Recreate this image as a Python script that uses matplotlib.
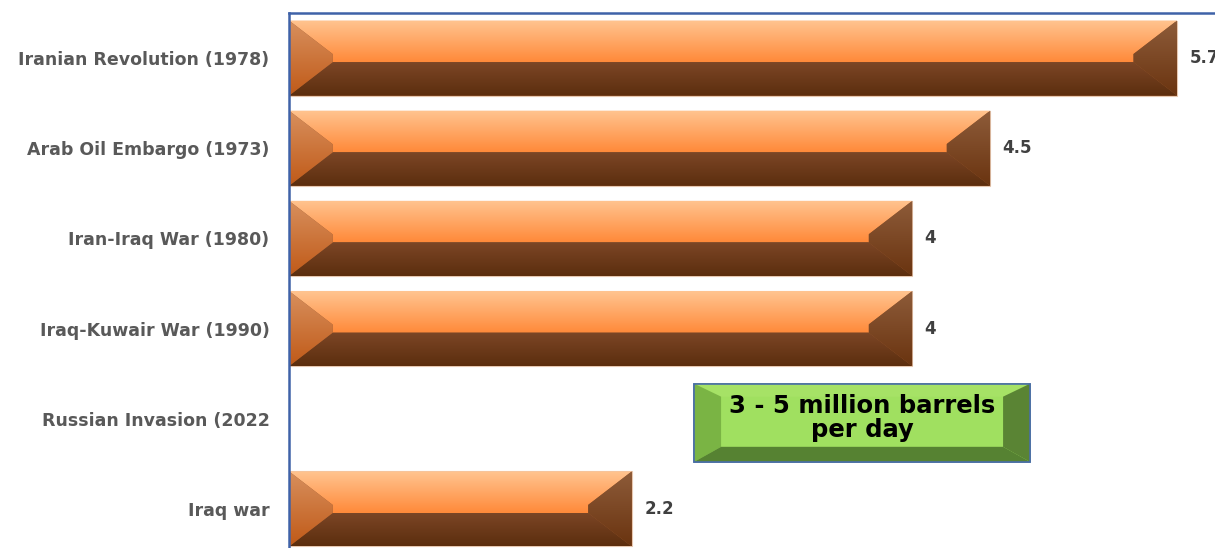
import numpy as np
import matplotlib
matplotlib.use("Agg")
import matplotlib.pyplot as plt
from matplotlib.patches import Polygon, Rectangle
from matplotlib.colors import LinearSegmentedColormap

plt.rcParams['font.family'] = ['DejaVu Sans']

# supply disruption, million barrels per day
events = ['Iranian Revolution (1978)', 'Arab Oil Embargo (1973)', 'Iran-Iraq War (1980)',
          'Iraq-Kuwair War (1990)', 'Russian Invasion (2022', 'Iraq war']
loss = [5.7, 4.5, 4, 4, np.nan, 2.2]
note = '3 - 5 million barrels\nper day'


def grad_face(ax, verts, c_top, c_bot, z=2):
    poly = Polygon(verts, closed=True, facecolor='none', edgecolor='none')
    ax.add_patch(poly)
    xs = [v[0] for v in verts]
    ys = [v[1] for v in verts]
    cmap = LinearSegmentedColormap.from_list('g', [c_top, c_bot])
    im = ax.imshow(np.linspace(0, 1, 64).reshape(-1, 1), cmap=cmap, origin='upper',
                   extent=(min(xs), max(xs), max(ys), min(ys)), aspect='auto',
                   interpolation='bilinear', zorder=z)
    im.set_clip_path(poly)


def bevel_bar(ax, c, w, h=0.833, bw=0.28, mid=0.045):
    t, b = c - h / 2, c + h / 2
    m1, m2 = c - mid, c + mid
    xl, xr = 0, w
    # solid backing so the facet seams don't show through
    ax.add_patch(Rectangle((xl, t), w, h, facecolor='#9a5a30', edgecolor='#e8c8b0',
                           lw=0.8, zorder=1.9))
    # top face
    grad_face(ax, [(xl, t), (xr, t), (xr - bw, m1), (xr - bw, m2), (xl + bw, m2), (xl + bw, m1)],
              '#ffc490', '#ff8a3a')
    # bottom face
    grad_face(ax, [(xl + bw, m2), (xr - bw, m2), (xr, b), (xl, b)], '#7c4626', '#5c2e0e')
    # left end
    grad_face(ax, [(xl, t), (xl + bw, m1), (xl + bw, m2), (xl, b)], '#d8905e', '#c05a18', z=2.1)
    # right end
    grad_face(ax, [(xr, t), (xr, b), (xr - bw, m2), (xr - bw, m1)], '#8e5c3a', '#6a3410', z=2.1)


fig = plt.figure(figsize=(12.15, 5.48), dpi=100)
ax = fig.add_axes([0.2379, -0.011, 0.80, 0.9873])

ypos = np.arange(len(events))
for y, v in zip(ypos, loss):
    if np.isnan(v):
        continue
    bevel_bar(ax, y, v)
    ax.annotate(f'{v:g}', (v, y), xytext=(9, 0), textcoords='offset points',
                va='center', ha='left', fontsize=12, fontweight='bold', color='#404040')

# callout box on the empty row
bx0, bx1, by0, by1 = 2.60, 4.756, 3.611, 4.478
ex, et, eb = 0.173, 0.144, 0.167
ax.add_patch(Polygon([(bx0, by0), (bx1, by0), (bx1, by1), (bx0, by1)], closed=True,
                     facecolor='#a0e060', edgecolor='#4a6fa5', lw=1.2, zorder=3))
ax.add_patch(Polygon([(bx0, by0), (bx1, by0), (bx1 - ex, by0 + et), (bx0 + ex, by0 + et)],
                     closed=True, facecolor='#a6e266', edgecolor='none', zorder=3.1))
ax.add_patch(Polygon([(bx0, by0), (bx0 + ex, by0 + et), (bx0 + ex, by1 - eb), (bx0, by1)],
                     closed=True, facecolor='#7ab444', edgecolor='none', zorder=3.1))
ax.add_patch(Polygon([(bx1, by0), (bx1, by1), (bx1 - ex, by1 - eb), (bx1 - ex, by0 + et)],
                     closed=True, facecolor='#5a8434', edgecolor='none', zorder=3.1))
ax.add_patch(Polygon([(bx0, by1), (bx0 + ex, by1 - eb), (bx1 - ex, by1 - eb), (bx1, by1)],
                     closed=True, facecolor='#568232', edgecolor='none', zorder=3.1))
ax.add_patch(Polygon([(bx0, by0), (bx1, by0), (bx1, by1), (bx0, by1)], closed=True,
                     facecolor='none', edgecolor='#4a6fa5', lw=1.2, zorder=3.2))
ax.text((bx0 + bx1) / 2, 3.99, note, ha='center', va='center', fontsize=17.5,
        fontweight='bold', color='black', linespacing=1.0, zorder=4)

ax.set_xlim(0, 0.80 * 1215 / 155.8)
ax.set_ylim(len(events) - 0.5, -0.5)
ax.set_yticks(ypos)
ax.set_yticklabels(events, fontsize=12.5, fontweight='bold', color='#595959')
ax.tick_params(axis='y', length=0, pad=14)
ax.set_xticks([])
for s in ['right', 'bottom']:
    ax.spines[s].set_visible(False)
for s in ['left', 'top']:
    ax.spines[s].set_color('#3f62a8')
    ax.spines[s].set_linewidth(1.8)

fig.savefig('out.png', dpi=100)
